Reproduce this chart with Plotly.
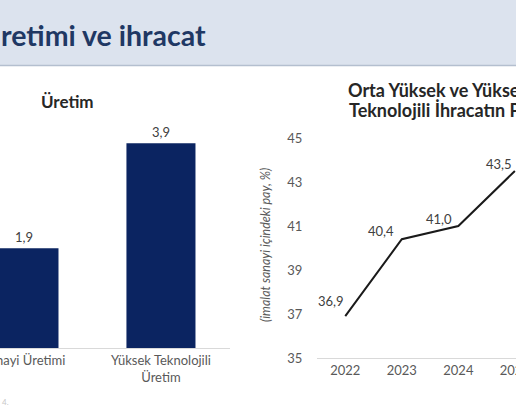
import plotly.graph_objects as go

W, H = 516, 418

# Data
bar_categories = ["Sanayi Üretimi", "Yüksek Teknolojili<br>Üretim"]
bar_values = [1.9, 3.9]
bar_labels = ["1,9", "3,9"]

years = [2022, 2023, 2024, 2025]
share_values = [36.9, 40.4, 41.0, 43.5]
share_labels = ["36,9", "40,4", "41,0", "43,5"]
y_ticks = [35, 37, 39, 41, 43, 45]

header_title = "retimi ve ihracat"
left_title = "Üretim"
right_title_1 = "Orta Yüksek ve Yüksek"
right_title_2 = "Teknolojili İhracatın Payı"
right_ytitle = "(imalat sanayi içindeki pay, %)"

FONT = "Lato"
NAVY = "#0b2461"
TXT = "#404040"


def px(x):
    return x / W


def py(y):
    return 1 - y / H


fig = go.Figure()

fig.add_trace(go.Bar(
    x=[0, 1], y=bar_values, text=bar_labels, textposition="outside",
    textfont=dict(family=FONT, size=13, color=TXT),
    marker=dict(color=NAVY, line=dict(width=0)),
    cliponaxis=False, xaxis="x", yaxis="y", showlegend=False,
))

fig.add_trace(go.Scatter(
    x=years, y=share_values, mode="lines",
    line=dict(color="#1a1a1a", width=2),
    xaxis="x2", yaxis="y2", showlegend=False, cliponaxis=False,
))

annotations = []
shifts = [(-14, 15), (-21, 8), (-19, 7), (-16, 7)]
for yr, v, lab, (dx, dy) in zip(years, share_values, share_labels, shifts):
    annotations.append(dict(
        x=yr, y=v, xref="x2", yref="y2", text=lab, showarrow=False,
        xshift=dx, yshift=dy, font=dict(family=FONT, size=13, color=TXT),
    ))

annotations += [
    dict(x=px(-1), y=py(35), xref="paper", yref="paper", xanchor="left", yanchor="middle",
         text="<b>" + header_title + "</b>", showarrow=False,
         font=dict(family=FONT, size=28.5, color="#1f3864")),
    dict(x=px(39), y=py(101), xref="paper", yref="paper", xanchor="left", yanchor="middle",
         text="<b>" + left_title + "</b>", showarrow=False,
         font=dict(family=FONT, size=17, color="#262626")),
    dict(x=px(346), y=py(90), xref="paper", yref="paper", xanchor="left", yanchor="middle",
         text="<b>" + right_title_1 + "</b>", showarrow=False,
         font=dict(family=FONT, size=18, color="#262626")),
    dict(x=px(347), y=py(110), xref="paper", yref="paper", xanchor="left", yanchor="middle",
         text="<b>" + right_title_2 + "</b>", showarrow=False,
         font=dict(family=FONT, size=18, color="#262626")),
    dict(x=px(265), y=py(245), xref="paper", yref="paper", xanchor="center", yanchor="middle",
         text="<i>" + right_ytitle + "</i>", showarrow=False, textangle=-90,
         font=dict(family=FONT, size=12.5, color="#595959")),
    dict(x=px(0), y=py(402), xref="paper", yref="paper", xanchor="left", yanchor="middle",
         text="4.", showarrow=False, font=dict(family=FONT, size=8, color="#c8c8c8")),
]

shapes = [
    dict(type="rect", xref="paper", yref="paper", x0=0, x1=1, y0=py(65), y1=1,
         fillcolor="#dce3ee", line=dict(width=0), layer="below"),
    dict(type="line", xref="paper", yref="paper", x0=0, x1=1, y0=py(65.5), y1=py(65.5),
         line=dict(color="#b4bfcf", width=1.5)),
]

fig.update_layout(
    width=W, height=H, margin=dict(l=0, r=0, t=0, b=0, pad=0, autoexpand=False),
    paper_bgcolor="white", plot_bgcolor="white",
    bargap=0.496,
    font=dict(family=FONT, color=TXT),
    xaxis=dict(domain=[0, px(230)], range=[-0.175, 1.504], tickvals=[0, 1],
               ticktext=bar_categories, showgrid=False, zeroline=False,
               showline=True, linecolor="#d9d9d9", linewidth=1, ticks="",
               ticklabeloverflow="allow", automargin=False,
               tickfont=dict(family=FONT, size=13, color="#595959")),
    yaxis=dict(domain=[py(348), py(138)], range=[0, 4], visible=False, automargin=False),
    xaxis2=dict(domain=[px(317), 1], range=[2021.5, 2025.02], tickvals=years,
                ticktext=[str(y) for y in years], showgrid=False, zeroline=False,
                showline=True, linecolor="#d9d9d9", linewidth=1, ticks="",
                ticklabeloverflow="allow", automargin=False,
                anchor="y2", tickfont=dict(family=FONT, size=13, color="#595959")),
    yaxis2=dict(domain=[py(358), py(138)], range=[35, 45], tickvals=y_ticks,
                showgrid=False, zeroline=False, showline=False, anchor="x2",
                ticks="outside", ticklen=11, tickcolor="rgba(0,0,0,0)",
                automargin=False,
                tickfont=dict(family=FONT, size=13, color="#595959")),
    annotations=annotations, shapes=shapes,
)

fig.write_html(
    "out.html",
    config={"displayModeBar": False},
    post_script="document.body.style.margin='0';document.body.style.overflow='hidden';",
)
